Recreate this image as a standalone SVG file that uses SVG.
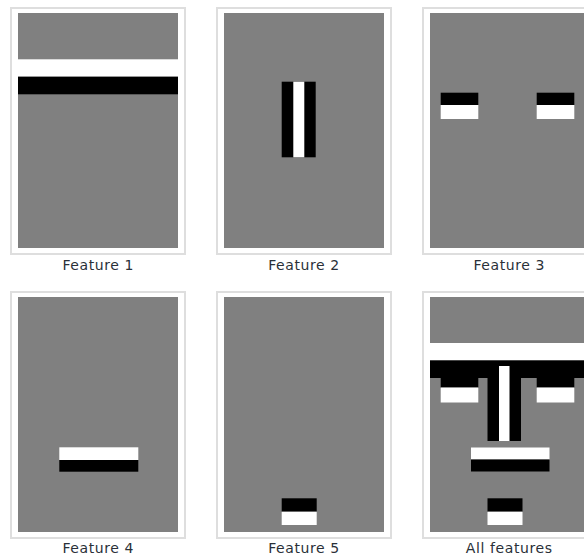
<svg xmlns="http://www.w3.org/2000/svg" width="584" height="555" viewBox="0 0 584 555">
<style>
.frame{fill:#fff;stroke:#dedede;stroke-width:2}
.bg{fill:#808080}
.k{fill:#000}
.w{fill:#fff}
.lbl{font-family:"DejaVu Sans",Verdana,sans-serif;font-size:14px;letter-spacing:0.6px;fill:#2a3038;text-anchor:middle}
</style>
<rect width="584" height="555" fill="#fff"/>
<g id="feature1">
<rect class="frame" x="11" y="8" width="174" height="246"/>
<rect class="bg" x="18" y="13" width="160" height="235"/>
<rect class="w" x="18" y="59.3" width="160" height="17.4"/>
<rect class="k" x="18" y="76.7" width="160" height="17.6"/>
<text class="lbl" x="98.3" y="270">Feature 1</text>
</g>
<g id="feature2">
<rect class="frame" x="217" y="8" width="174" height="246"/>
<rect class="bg" x="224" y="13" width="160" height="235"/>
<rect class="k" x="281.7" y="81.7" width="34" height="75.6"/>
<rect class="w" x="293.3" y="81.7" width="11" height="75.6"/>
<text class="lbl" x="304" y="270">Feature 2</text>
</g>
<g id="feature3">
<rect class="frame" x="423" y="8" width="174" height="246"/>
<rect class="bg" x="430" y="13" width="160" height="235"/>
<rect class="k" x="440.7" y="92.7" width="37.6" height="12.3"/>
<rect class="w" x="440.7" y="105" width="37.6" height="14"/>
<rect class="k" x="536.7" y="92.7" width="37.6" height="12.3"/>
<rect class="w" x="536.7" y="105" width="37.6" height="14"/>
<text class="lbl" x="509.3" y="270">Feature 3</text>
</g>
<g id="feature4">
<rect class="frame" x="11" y="292" width="174" height="246"/>
<rect class="bg" x="18" y="297" width="160" height="235"/>
<rect class="w" x="59.3" y="447.3" width="79" height="12.7"/>
<rect class="k" x="59.3" y="460" width="79" height="11.7"/>
<text class="lbl" x="98.3" y="553">Feature 4</text>
</g>
<g id="feature5">
<rect class="frame" x="217" y="292" width="174" height="246"/>
<rect class="bg" x="224" y="297" width="160" height="235"/>
<rect class="k" x="281.7" y="498.3" width="35" height="13.4"/>
<rect class="w" x="281.7" y="511.7" width="35" height="13.3"/>
<text class="lbl" x="304" y="553">Feature 5</text>
</g>
<g id="all-features">
<rect class="frame" x="423" y="292" width="174" height="246"/>
<rect class="bg" x="430" y="297" width="160" height="235"/>
<rect class="w" x="430" y="343" width="160" height="17.4"/>
<rect class="k" x="430" y="360.4" width="160" height="17.6"/>
<rect class="k" x="440.7" y="376.7" width="37.6" height="11"/>
<rect class="w" x="440.7" y="387.5" width="37.6" height="15"/>
<rect class="k" x="536.7" y="376.7" width="37.6" height="11"/>
<rect class="w" x="536.7" y="387.5" width="37.6" height="15"/>
<rect class="k" x="487.5" y="366" width="33.5" height="75"/>
<rect class="w" x="499" y="366" width="10.5" height="75"/>
<rect class="w" x="471" y="447.5" width="78.5" height="12"/>
<rect class="k" x="471" y="459.5" width="78.5" height="12"/>
<rect class="k" x="487.5" y="498.3" width="35" height="13.4"/>
<rect class="w" x="487.5" y="511.7" width="35" height="13.3"/>
<text class="lbl" x="509.3" y="553">All features</text>
</g>
</svg>
